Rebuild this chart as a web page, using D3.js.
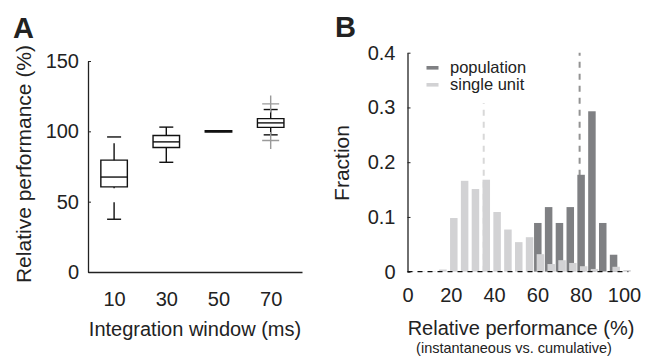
<!DOCTYPE html>
<html>
<head>
<meta charset="utf-8">
<script src="https://cdn.jsdelivr.net/npm/d3@7"></script>
<style>
    html, body { margin: 0; padding: 0; background: #fff; }
    svg { display: block; }
    text { font-family: "Liberation Sans", Arial, sans-serif; fill: #222; }
</style>
</head>
<body>
<div id="chart"></div>
<script>
// Panel A: box plots per integration window
const windows = [10, 30, 50, 70];
const whiskerLow = [37.5, 78, 100, 97.5];
const quart1 = [60.5, 88.5, 99.5, 102.8];
const medians = [67.5, 92.5, 100, 106];
const quart3 = [79.5, 97, 100.5, 109];
const whiskerHigh = [96, 103, 100, 115.5];
const outliers = [[], [], [], [119.5, 93.5]];
const ticksA = [0, 50, 100, 150];

// Panel B: histograms of relative performance
const binCenters = [0, 5, 10, 15, 20, 25, 30, 35, 40, 45, 50, 55, 60, 65, 70, 75, 80, 85, 90, 95, 100];
const singleUnit = [0.001, 0.001, 0.001, 0.004, 0.098, 0.166, 0.151, 0.168, 0.109, 0.077, 0.054, 0.063,
    0.032, 0.014, 0.021, 0.016, 0.010, 0.005, 0.001, 0.009, 0.003];
const population = [0, 0, 0, 0, 0, 0, 0, 0, 0, 0, 0, 0,
    0.089, 0.118, 0.089, 0.118, 0.177, 0.293, 0.089, 0.031, 0];
const singleMean = 35.2;
const popMean = 79.5;
const ticksBx = [0, 20, 40, 60, 80, 100];
const ticksBy = [0, 0.1, 0.2, 0.3, 0.4];

const W = 657, H = 356;
const darkGray = "#7f8083";
const lightGray = "#d2d2d4";

let svg = d3.select("#chart").append("svg")
    .attr("width", W)
    .attr("height", H);

// ---------- panel A ----------
let drawPanelA = function () {
    let g = svg.append("g");
    let x = d3.scaleLinear().domain([0, 82]).range([88, 302]);
    let y = d3.scaleLinear().domain([0, 150]).range([272, 61]);
    let boxW = 26.5, capW = 14, plusW = 17;

    g.append("text")
        .attr("x", 13).attr("y", 38)
        .style("font-size", "29px").style("font-weight", "bold")
        .text("A");

    // y axis, ticks pointing inward
    let yAxis = g.append("g")
        .attr("transform", "translate(" + x(0) + ",0)")
        .call(d3.axisLeft(y).tickValues(ticksA).tickSizeInner(-3).tickSizeOuter(0).tickPadding(9));
    yAxis.selectAll("text").style("font-size", "20px");

    // x axis
    let xAxis = g.append("g")
        .attr("transform", "translate(0," + y(0) + ")")
        .call(d3.axisBottom(x).tickValues(windows).tickSize(0).tickPadding(20));
    xAxis.selectAll("text").style("font-size", "20px");
    g.selectAll(".domain").attr("stroke", "#222").attr("stroke-width", 1.3);
    g.selectAll(".tick line").attr("stroke", "#222");

    g.append("text")
        .attr("x", x(41)).attr("y", 336)
        .attr("text-anchor", "middle")
        .style("font-size", "20px")
        .text("Integration window (ms)");

    g.append("text")
        .attr("transform", "translate(31,164) rotate(-90)")
        .attr("text-anchor", "middle")
        .style("font-size", "21px")
        .text("Relative performance (%)");

    // boxes
    windows.forEach(function (w, i) {
        let cx = x(w);
        let box = g.append("g")
            .attr("fill", "none")
            .attr("stroke", "#111")
            .attr("stroke-width", 1.4);

        // whiskers are dashed, drawn from low to high value
        box.append("line")
            .attr("x1", cx).attr("x2", cx)
            .attr("y1", y(whiskerLow[i])).attr("y2", y(quart1[i]))
            .attr("stroke-dasharray", "17,14");
        box.append("line")
            .attr("x1", cx).attr("x2", cx)
            .attr("y1", y(quart3[i])).attr("y2", y(whiskerHigh[i]))
            .attr("stroke-dasharray", "17,14");

        [whiskerLow[i], whiskerHigh[i]].forEach(function (v) {
            box.append("line")
                .attr("x1", cx - capW / 2).attr("x2", cx + capW / 2)
                .attr("y1", y(v)).attr("y2", y(v));
        });

        box.append("path")
            .attr("d", "M" + (cx - boxW / 2) + "," + y(quart1[i]) +
                "H" + (cx + boxW / 2) + "V" + y(quart3[i]) +
                "H" + (cx - boxW / 2) + "Z");
        box.append("line")
            .attr("x1", cx - boxW / 2).attr("x2", cx + boxW / 2)
            .attr("y1", y(medians[i])).attr("y2", y(medians[i]));

        // outliers as gray plus markers
        outliers[i].forEach(function (v) {
            g.append("path")
                .attr("d", "M" + (cx - plusW / 2) + "," + y(v) + "h" + plusW +
                    "M" + cx + "," + (y(v) - plusW / 2) + "v" + plusW)
                .attr("stroke", "#9a9a9a")
                .attr("stroke-width", 1.4)
                .attr("fill", "none");
        });
    });
};

// ---------- panel B ----------
let drawPanelB = function () {
    let g = svg.append("g");
    let x = d3.scaleLinear().domain([0, 100]).range([407.5, 624]);
    let y = d3.scaleLinear().domain([0, 0.4]).range([271.7, 52.7]);
    let barW = 7.5;

    g.append("text")
        .attr("x", 335).attr("y", 37)
        .style("font-size", "29px").style("font-weight", "bold")
        .text("B");

    // mean markers
    g.append("line")
        .attr("x1", x(singleMean)).attr("x2", x(singleMean))
        .attr("y1", y(0)).attr("y2", y(0.308))
        .attr("stroke", "#d8d8d8").attr("stroke-width", 2)
        .attr("stroke-dasharray", "6,6");
    g.append("line")
        .attr("x1", x(popMean)).attr("x2", x(popMean))
        .attr("y1", y(0)).attr("y2", y(0.4))
        .attr("stroke", "#939393").attr("stroke-width", 2)
        .attr("stroke-dasharray", "6,6");

    // population bars, then single unit bars drawn slightly to the right on top
    g.selectAll(".pop")
        .data(binCenters)
        .enter()
        .append("rect")
        .attr("class", "pop")
        .attr("x", (d) => x(d) + 0.4 - barW / 2)
        .attr("width", barW)
        .attr("y", (d, i) => y(population[i]))
        .attr("height", (d, i) => y(0) - y(population[i]))
        .attr("fill", darkGray);

    g.selectAll(".single")
        .data(binCenters)
        .enter()
        .append("rect")
        .attr("class", "single")
        .attr("x", (d) => x(d) + 3 - barW / 2)
        .attr("width", barW)
        .attr("y", (d, i) => y(singleUnit[i]))
        .attr("height", (d, i) => y(0) - y(singleUnit[i]))
        .attr("fill", lightGray);

    // y axis
    let yAxis = g.append("g")
        .attr("transform", "translate(" + x(0) + ",0)")
        .call(d3.axisLeft(y).tickValues(ticksBy).tickSizeInner(-3).tickSizeOuter(0).tickPadding(12)
            .tickFormat((d) => d === 0 ? "0" : d.toFixed(1)));
    yAxis.selectAll("text").style("font-size", "20px");
    yAxis.select(".domain").attr("stroke", "#222").attr("stroke-width", 1.3);
    yAxis.selectAll(".tick line").attr("stroke", "#222");

    // x axis: dashed baseline, labels only
    let xAxis = g.append("g")
        .attr("transform", "translate(0," + y(0) + ")")
        .call(d3.axisBottom(x).tickValues(ticksBx).tickSize(0).tickPadding(16));
    xAxis.selectAll("text").style("font-size", "20px");
    xAxis.select(".domain").remove();
    g.append("line")
        .attr("x1", x(0)).attr("x2", x(102))
        .attr("y1", y(0)).attr("y2", y(0))
        .attr("stroke", "#111").attr("stroke-width", 1.3)
        .attr("stroke-dasharray", "5,5");

    g.append("text")
        .attr("x", 521).attr("y", 335)
        .attr("text-anchor", "middle")
        .style("font-size", "20px")
        .text("Relative performance (%)");
    g.append("text")
        .attr("x", 514).attr("y", 353)
        .attr("text-anchor", "middle")
        .style("font-size", "14.5px")
        .text("(instantaneous vs. cumulative)");

    g.append("text")
        .attr("transform", "translate(349,163) rotate(-90)")
        .attr("text-anchor", "middle")
        .style("font-size", "21px")
        .text("Fraction");

    // legend
    let legend = [["population", darkGray], ["single unit", lightGray]];
    legend.forEach(function (d, i) {
        g.append("rect")
            .attr("x", 426.5).attr("y", 66 + i * 17)
            .attr("width", 12).attr("height", 3.6)
            .attr("fill", d[1]);
        g.append("text")
            .attr("x", 450).attr("y", 73 + i * 17)
            .style("font-size", "16.5px")
            .text(d[0]);
    });
};

drawPanelA();
drawPanelB();
</script>
</body>
</html>
